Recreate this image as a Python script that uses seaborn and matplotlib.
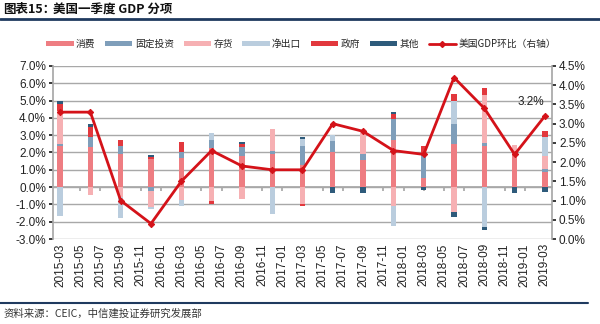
import matplotlib
matplotlib.use("Agg")
import matplotlib.pyplot as plt
from matplotlib.lines import Line2D
from matplotlib.patches import Rectangle
from matplotlib.ticker import FuncFormatter
import numpy as np
import pandas as pd
import seaborn as sns

# Quarterly contributions to US real GDP growth (percentage points)
quarters = ["2015-03", "2015-06", "2015-09", "2015-12", "2016-03", "2016-06",
            "2016-09", "2016-12", "2017-03", "2017-06", "2017-09", "2017-12",
            "2018-03", "2018-06", "2018-09", "2018-12", "2019-03"]
consumption  = [2.40, 2.30, 1.90, 1.65, 1.70, 2.25, 1.80, 1.90, 1.30, 2.00, 1.55, 2.75, 0.50, 2.50, 2.40, 1.90, 0.85]
fixed_invest = [0.10, 0.60, 0.50, -0.20, 0.30, 0.50, 0.50, 0.20, 1.10, 0.65, 0.35, 1.20, 1.45, 1.15, 0.15, 0.00, 0.20]
inventory    = [1.90, -0.45, -0.60, -0.95, -0.75, -0.80, -0.70, 1.25, -1.00, 0.00, 1.25, -1.10, 0.00, -1.45, 2.75, 0.55, 0.75]
net_exports  = [-1.65, 0.00, -1.20, -0.10, -0.35, 0.35, 0.00, -1.55, 0.40, 0.35, 0.00, -1.15, 0.00, 1.35, -2.30, 0.00, 1.10]
government   = [0.40, 0.60, 0.30, 0.10, 0.60, -0.20, 0.20, 0.00, -0.10, 0.00, 0.00, 0.25, 0.45, 0.40, 0.40, 0.00, 0.35]
other        = [0.20, 0.15, 0.00, 0.08, 0.00, 0.00, 0.10, 0.00, 0.10, -0.35, -0.35, 0.15, -0.15, -0.25, -0.20, -0.35, -0.30]
gdp_qoq      = [3.3, 3.3, 1.0, 0.4, 1.5, 2.3, 1.9, 1.8, 1.8, 3.0, 2.8, 2.3, 2.2, 4.2, 3.4, 2.2, 3.2]

series_names = ["消费", "固定投资", "存货", "净出口", "政府", "其他"]
line_name = "美国GDP环比（右轴）"
source_text = "资料来源：CEIC，中信建投证券研究发展部"
title_label = "图表15："
title_text = "美国一季度 GDP 分项"

colors = ["#EE7D82", "#7F9EBA", "#F6B0B3", "#BACDDE", "#E2383D", "#2E5B7B"]
line_color = "#D41219"

sns.set_theme(style="white")
plt.rcParams["font.family"] = ["Liberation Sans", "Noto Sans CJK SC", "DejaVu Sans"]
cjk = ["Noto Sans CJK SC", "DejaVu Sans"]

# Month positions on a continuous date-like axis
origin = pd.Period(quarters[0], freq="M")
x_pos = np.array([(pd.Period(q, freq="M") - origin).n for q in quarters])
tick_periods = pd.period_range(quarters[0], quarters[-1], freq="M")[::2]
tick_pos = [(p - origin).n for p in tick_periods]
tick_labels = [p.strftime("%Y-%m") for p in tick_periods]

fig = plt.figure(figsize=(6.0, 3.24), dpi=100)
ax = fig.add_axes([53 / 600, 1 - 239 / 324, (552 - 53) / 600, (239 - 66) / 324])

# Stacked bars: positive parts upward from 0, negative parts downward
data = [consumption, fixed_invest, inventory, net_exports, government, other]
pos_base = np.zeros(len(quarters))
neg_base = np.zeros(len(quarters))
for vals, c in zip(data, colors):
    v = np.array(vals, dtype=float)
    bottom = np.where(v >= 0, pos_base, neg_base)
    ax.bar(x_pos, v, width=0.52, bottom=bottom, color=c, linewidth=0, zorder=3)
    pos_base = pos_base + np.where(v >= 0, v, 0)
    neg_base = neg_base + np.where(v < 0, v, 0)

ax.set_xlim(-0.7, 48.7)
ax.set_ylim(-3, 7)
ax.set_yticks(np.arange(-3, 7.01, 1))
ax.yaxis.set_major_formatter(FuncFormatter(lambda v, _: f"{v:.1f}%"))
ax.yaxis.grid(True, color="#A8A8A8", linewidth=1.0)
ax.set_axisbelow(True)
ax.tick_params(axis="y", labelsize=8.5, colors="#222222", length=3, direction="out",
               left=True, pad=2)
for s in ["top", "right"]:
    ax.spines[s].set_visible(False)
ax.spines["left"].set_color("#A8A8A8")
ax.spines["bottom"].set_position(("data", 0))
ax.spines["bottom"].set_color("#A8A8A8")
ax.set_xticks(tick_pos)
ax.set_xticklabels([])
ax.tick_params(axis="x", bottom=True, length=3, direction="out", color="#A8A8A8")

sec = ax.secondary_xaxis("bottom")
sec.set_xticks(tick_pos)
sec.set_xticklabels(tick_labels, rotation=90, fontsize=8.5, color="#222222")
sec.tick_params(length=0, pad=3)
sec.spines["bottom"].set_visible(False)

# GDP line on the right axis
ax2 = ax.twinx()
line_df = pd.DataFrame({"x": x_pos, "gdp": gdp_qoq})
sns.lineplot(data=line_df, x="x", y="gdp", ax=ax2, color=line_color, linewidth=2.0,
             marker="D", markersize=3.2, markeredgecolor=line_color, zorder=5)
ax2.set_ylim(0, 4.5)
ax2.set_yticks(np.arange(0, 4.51, 0.5))
ax2.yaxis.set_major_formatter(FuncFormatter(lambda v, _: f"{v:.1f}%"))
ax2.tick_params(axis="y", labelsize=8.5, colors="#222222", length=3, direction="out",
                right=True, pad=2)
ax2.set_xlabel("")
ax2.set_ylabel("")
ax.set_ylabel("")
for s in ["top", "left", "bottom"]:
    ax2.spines[s].set_visible(False)
ax2.spines["right"].set_color("#A8A8A8")
ax2.annotate(f"{gdp_qoq[-1]:.1f}%", xy=(x_pos[-1], gdp_qoq[-1]), xytext=(-10, 6),
             textcoords="offset points", ha="center", va="bottom", fontsize=8.5,
             color="#222222")

# Legend across the top
handles = [Rectangle((0, 0), 1, 1, facecolor=c, edgecolor="none") for c in colors]
handles.append(Line2D([], [], color=line_color, linewidth=2, marker="D", markersize=3))
fig.legend(handles, series_names + [line_name], loc="center", ncol=7,
           bbox_to_anchor=(0.502, 1 - 44 / 324), frameon=False,
           prop={"family": cjk, "size": 7}, handlelength=2.8, handleheight=0.45,
           handletextpad=0.25, columnspacing=1.0)

# Header and footer
fig.text(0.006, 1 - 10 / 324, title_label, fontsize=9, fontweight="bold",
         family=cjk, va="center", ha="left", color="#111111")
fig.text(53 / 600, 1 - 10 / 324, title_text, fontsize=9, fontweight="bold",
         family=cjk, va="center", ha="left", color="#111111")
fig.add_artist(Line2D([0, 1], [1 - 19 / 324, 1 - 19 / 324], transform=fig.transFigure,
                      color="#1F3A5F", linewidth=2))
fig.add_artist(Line2D([0, 0.98], [1 - 303 / 324, 1 - 303 / 324], transform=fig.transFigure,
                      color="#1F3A5F", linewidth=1.5))
fig.text(0.006, 1 - 314 / 324, source_text, fontsize=7.5, family=cjk, va="center",
         ha="left", color="#333333", style="italic")

fig.savefig("out.png", dpi=100)
